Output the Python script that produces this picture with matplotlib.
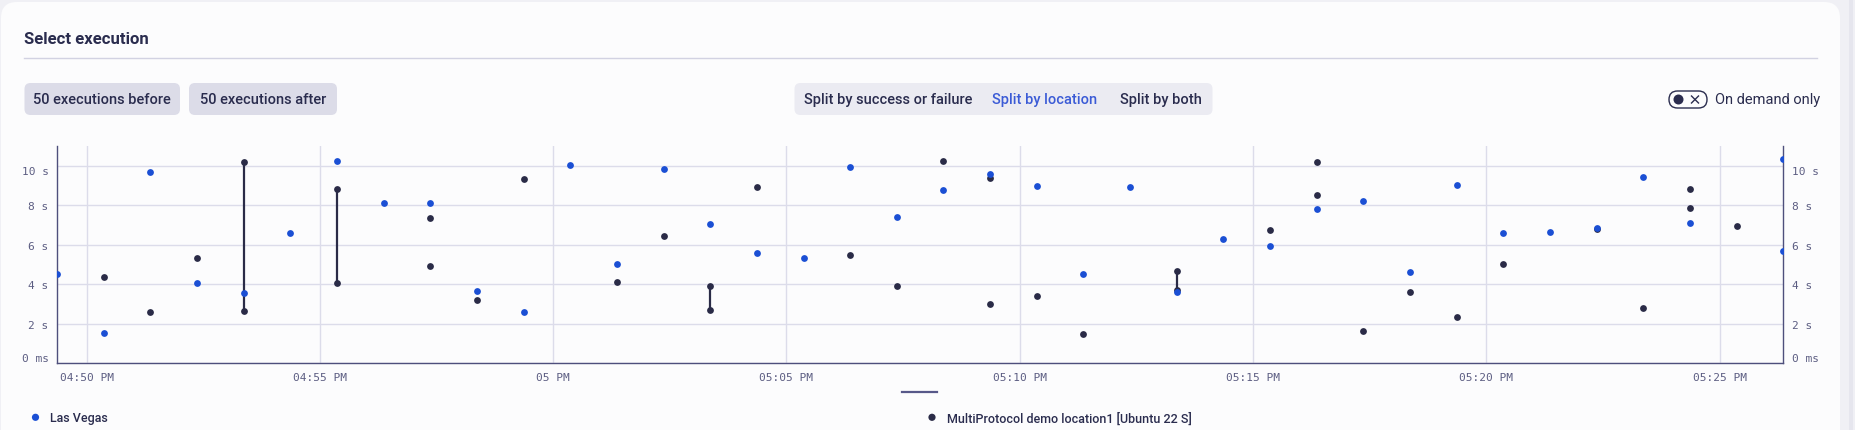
import datetime as dt

import matplotlib
matplotlib.use("Agg")
import matplotlib.pyplot as plt
from matplotlib import font_manager
from matplotlib.patches import FancyBboxPatch, Circle, Rectangle

W, H = 1856, 431

# execution start times and durations (seconds), per location
las_vegas_times = [
    "16:49:22", "16:50:22", "16:51:22", "16:52:22", "16:53:22", "16:54:22",
    "16:55:22", "16:56:22", "16:57:22", "16:58:22", "16:59:22", "17:00:22",
    "17:01:22", "17:02:22", "17:03:22", "17:04:22", "17:05:22", "17:06:22",
    "17:07:22", "17:08:22", "17:09:22", "17:10:22", "17:11:22", "17:12:22",
    "17:13:22", "17:14:22", "17:15:22", "17:16:22", "17:17:22", "17:18:22",
    "17:19:22", "17:20:22", "17:21:22", "17:22:22", "17:23:22", "17:24:22",
    "17:26:22", "17:26:22",
]
las_vegas_secs = [
    4.55, 1.53, 9.70, 4.05, 3.56, 6.61,
    10.27, 8.13, 8.13, 3.67, 2.60, 10.05,
    5.01, 9.85, 7.05, 5.57, 5.33, 9.97,
    7.40, 8.77, 9.61, 9.01, 4.55, 8.92,
    3.62, 6.32, 5.97, 7.83, 8.25, 4.62,
    9.06, 6.63, 6.68, 6.88, 9.44, 7.10,
    10.34, 5.68,
]

multi_times = [
    "16:50:22", "16:51:22", "16:52:22", "16:53:22", "16:53:22", "16:55:22",
    "16:55:22", "16:57:22", "16:57:22", "16:58:22", "16:59:22", "17:01:22",
    "17:02:22", "17:03:22", "17:03:22", "17:04:22", "17:06:22", "17:07:22",
    "17:08:22", "17:09:22", "17:09:22", "17:10:22", "17:11:22", "17:13:22",
    "17:13:22", "17:15:22", "17:16:22", "17:16:22", "17:17:22", "17:18:22",
    "17:19:22", "17:20:22", "17:22:22", "17:23:22", "17:24:22", "17:24:22",
    "17:25:22",
]
multi_secs = [
    4.35, 2.58, 5.36, 10.19, 2.63, 8.82,
    4.08, 7.37, 4.94, 3.22, 9.36, 4.10,
    6.43, 3.93, 2.71, 8.92, 5.47, 3.90,
    10.25, 9.38, 3.02, 3.39, 1.50, 4.67,
    3.70, 6.75, 10.20, 8.53, 1.65, 3.59,
    2.36, 5.01, 6.82, 2.81, 8.82, 7.86,
    6.95,
]

# range bars (same location, several runs in one slot)
range_times = ["16:53:22", "16:55:22", "17:03:22", "17:13:22"]
range_lo = [2.63, 4.08, 2.71, 3.70]
range_hi = [10.19, 8.82, 3.93, 4.67]

y_ticks = [0, 2, 4, 6, 8, 10]
y_tick_labels = ["0 ms", "2 s", "4 s", "6 s", "8 s", "10 s"]
x_tick_times = ["16:50", "16:55", "17:00", "17:05", "17:10", "17:15", "17:20", "17:25"]
x_tick_labels = ["04:50 PM", "04:55 PM", "05 PM", "05:05 PM",
                 "05:10 PM", "05:15 PM", "05:20 PM", "05:25 PM"]
x_start, x_end = "16:49:22", "17:26:22"

legend_labels = ["Las Vegas", "MultiProtocol demo location1 [Ubuntu 22 S]"]

BLUE = "#1b4fd4"
DARK = "#2a2b47"
TEXT = "#2a2c4e"
TICK = "#5c5d82"
GRID = "#dcdcea"
SPINE = "#4e4f7c"
CARD = "#fcfcfd"
PAGE = "#f0f0f5"


def to_dt(s):
    fmt = "%H:%M:%S" if s.count(":") == 2 else "%H:%M"
    t = dt.datetime.strptime(s, fmt)
    return dt.datetime(2024, 1, 1, t.hour, t.minute, t.second)


names = {f.name for f in font_manager.fontManager.ttflist}
UI_FONT = "Liberation Sans Narrow" if "Liberation Sans Narrow" in names else "Roboto"
MONO = "DejaVu Sans Mono"

fig = plt.figure(figsize=(W / 100, H / 100), dpi=100, facecolor=PAGE)

# ---- page chrome drawn in pixel coordinates
ui = fig.add_axes([0, 0, 1, 1], zorder=0)
ui.set_xlim(0, W)
ui.set_ylim(H, 0)
ui.axis("off")

ui.add_patch(FancyBboxPatch((1, 3), 1839, 520, boxstyle="round,pad=0,rounding_size=16",
                            fc=CARD, ec="none"))
ui.add_patch(Rectangle((1849, 0), 4, H, fc="#e6e6ee", ec="none"))

ui.text(24.5, 39.5, "Select execution", fontsize=12, fontweight="bold", color=TEXT,
        family=UI_FONT, va="center", ha="left")
ui.plot([24.5, 1817], [59.3, 59.3], color="#d2d2e2", lw=1)

for x0, x1, label in [(24.5, 180, "50 executions before"), (189, 337, "50 executions after")]:
    ui.add_patch(FancyBboxPatch((x0, 84), x1 - x0, 32, boxstyle="round,pad=0,rounding_size=6",
                                fc="#dcdce8", ec="none"))
    ui.text((x0 + x1) / 2, 100.5, label, fontsize=10.5, fontweight="medium", color=TEXT,
            family=UI_FONT, ha="center", va="center")

ui.add_patch(FancyBboxPatch((794.5, 84), 418, 32, boxstyle="round,pad=0,rounding_size=6",
                            fc="#ebebf2", ec="none"))
for xc, label, col in [(888, "Split by success or failure", TEXT),
                       (1045, "Split by location", "#3b5bd6"),
                       (1160.5, "Split by both", TEXT)]:
    ui.text(xc, 100.5, label, fontsize=10.5, fontweight="medium", color=col,
            family=UI_FONT, ha="center", va="center")

ui.add_patch(FancyBboxPatch((1669, 92), 38, 17, boxstyle="round,pad=0,rounding_size=8.5",
                            fc=CARD, ec=TEXT, lw=1))
ui.add_patch(Circle((1678.5, 100.5), 5, fc=TEXT, ec="none"))
ui.plot([1691.5, 1698.5], [97, 104], color=TEXT, lw=1)
ui.plot([1691.5, 1698.5], [104, 97], color=TEXT, lw=1)
ui.text(1715.5, 100.5, "On demand only", fontsize=10.5, color=TEXT, family=UI_FONT,
        ha="left", va="center")

# legend + pager line under the chart
ui.plot([902, 937], [392.7, 392.7], color="#575889", lw=1.6)
for xb, label, col in [(35.5, legend_labels[0], BLUE), (932, legend_labels[1], DARK)]:
    ui.add_patch(Circle((xb, 418.3), 3.6, fc=col, ec="none"))
    ui.text(xb + 15, 418.8, label, fontsize=9, fontweight="medium", color=TEXT,
            family=UI_FONT, ha="left", va="center")

# ---- chart
ax = fig.add_axes([57 / W, 1 - 364.3 / H, (1783.3 - 57) / W, (364.3 - 147.3) / H], zorder=1)
ax.set_facecolor("none")

ax.vlines([to_dt(t) for t in range_times], range_lo, range_hi, color=DARK, lw=1.6, zorder=3)
ax.scatter([to_dt(t) for t in multi_times], multi_secs, s=24, color=DARK,
           linewidths=0, zorder=4)
ax.scatter([to_dt(t) for t in las_vegas_times], las_vegas_secs, s=24, color=BLUE,
           linewidths=0, zorder=5)

ax.set_xlim(to_dt(x_start), to_dt(x_end))
ax.set_ylim(0, 11)
ax.set_xticks([to_dt(t) for t in x_tick_times])
ax.set_xticklabels(x_tick_labels)
ax.set_yticks(y_ticks)
ax.set_yticklabels(y_tick_labels)

ax.grid(True, color=GRID, lw=1)
ax.set_axisbelow(True)
ax.spines["top"].set_visible(False)
for side in ["left", "right", "bottom"]:
    ax.spines[side].set_color(SPINE)
    ax.spines[side].set_linewidth(1)

ax.tick_params(axis="both", length=0, labelsize=8, labelcolor=TICK)
ax.tick_params(axis="y", pad=6, labelleft=True, labelright=True)
ax.tick_params(axis="x", pad=6)

for t in ax.xaxis.get_major_ticks():
    t.label1.set_family(MONO)
yt = ax.yaxis.get_major_ticks()
for t in yt:
    t.label1.set_family(MONO)
    t.label2.set_family(MONO)
# keep the outer labels inside the plot height
yt[0].label1.set_va("bottom")
yt[0].label2.set_va("bottom")
yt[-1].label1.set_va("top")
yt[-1].label2.set_va("top")

fig.savefig("out.png", dpi=100, facecolor=PAGE)
